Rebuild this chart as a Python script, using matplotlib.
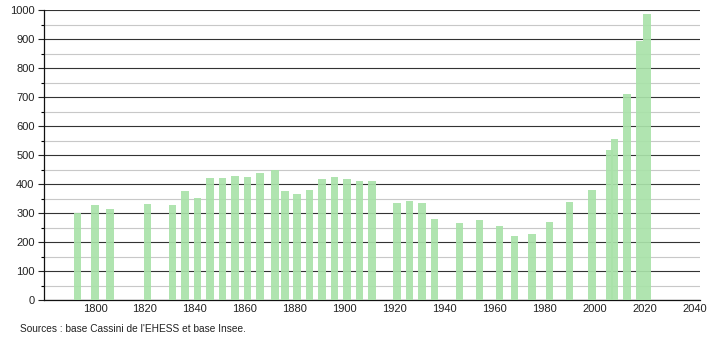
import matplotlib
matplotlib.use("Agg")
import matplotlib.pyplot as plt
from matplotlib.ticker import MultipleLocator

years = [1793, 1800, 1806, 1821, 1831, 1836, 1841, 1846, 1851, 1856, 1861, 1866,
         1872, 1876, 1881, 1886, 1891, 1896, 1901, 1906, 1911, 1921, 1926, 1931,
         1936, 1946, 1954, 1962, 1968, 1975, 1982, 1990, 1999, 2006, 2008, 2013,
         2018, 2021]
population = [300, 328, 315, 332, 328, 377, 353, 422, 422, 429, 424, 438,
              447, 376, 366, 380, 417, 424, 417, 410, 410, 334, 341, 336,
              279, 265, 277, 256, 222, 228, 270, 339, 380, 516, 555, 709,
              893, 985]
xticks = [1800, 1820, 1840, 1860, 1880, 1900, 1920, 1940, 1960, 1980, 2000, 2020, 2040]
source = "Sources : base Cassini de l'EHESS et base Insee."

plt.rcParams['font.family'] = ['Liberation Sans', 'DejaVu Sans']

fig = plt.figure(figsize=(7.1, 3.4), dpi=100)
ax = fig.add_axes([44.3 / 710, 40 / 340, (700 - 44.3) / 710, 290 / 340])

ax.bar(years, population, width=3.0, color='#a9e2a9', alpha=0.92, zorder=3, linewidth=0)

ax.set_xlim(1779.7, 2042.3)
ax.set_ylim(0, 1000)
ax.set_xticks(xticks)
ax.set_xticklabels([str(x) for x in xticks], fontsize=8, color='#222222')
ax.yaxis.set_major_locator(MultipleLocator(100))
ax.yaxis.set_minor_locator(MultipleLocator(50))
ax.tick_params(axis='y', which='major', length=4, width=0.8, labelsize=8, colors='#222222', pad=3)
ax.tick_params(axis='y', which='minor', length=2, width=0.8)
ax.tick_params(axis='x', length=0, pad=3)

ax.grid(axis='y', which='major', color='#333333', linewidth=0.8, zorder=1)
ax.grid(axis='y', which='minor', color='#c8c8c8', linewidth=0.8, zorder=1)
ax.set_axisbelow(True)

for s in ['top', 'right']:
    ax.spines[s].set_visible(False)
ax.spines['left'].set_color('#111111')
ax.spines['bottom'].set_color('#111111')
ax.spines['left'].set_linewidth(0.9)
ax.spines['bottom'].set_linewidth(0.9)

fig.text(20 / 710, 1 - 329 / 340, source, fontsize=7.3, color='#222222', va='center', ha='left')

fig.savefig('out.png', dpi=100, facecolor='white')
